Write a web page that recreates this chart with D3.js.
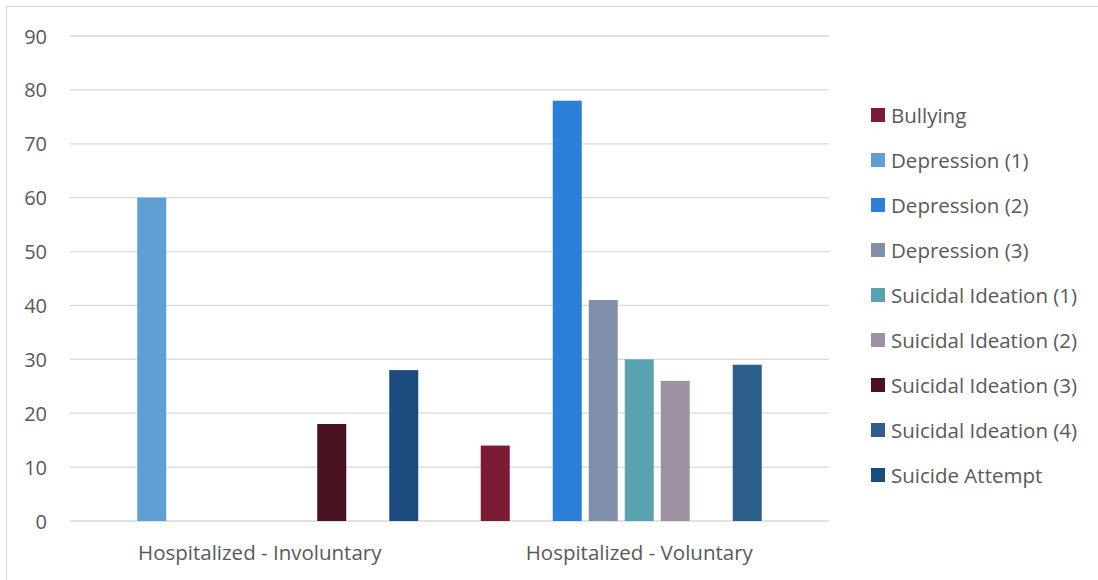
<!DOCTYPE html>
<html>
<head>
<meta charset="utf-8">
<script src="https://cdn.jsdelivr.net/npm/d3@7"></script>
<style>
  body { margin: 0; background: #fff; }
  text { font-family: "Open Sans", sans-serif; fill: #595959; }
</style>
</head>
<body>
<svg id="chart" width="1098" height="580"></svg>
<script>
// categories and series
var categories = ["Hospitalized - Involuntary", "Hospitalized - Voluntary"];
var seriesNames = ["Bullying", "Depression (1)", "Depression (2)", "Depression (3)",
  "Suicidal Ideation (1)", "Suicidal Ideation (2)", "Suicidal Ideation (3)",
  "Suicidal Ideation (4)", "Suicide Attempt"];
var seriesColors = ["#7B1C34", "#609FD3", "#2B7FD7", "#7F8EA9", "#59A3B0",
  "#9E91A1", "#4A1120", "#2C5F8C", "#1B4C80"];
// null = no bar
var involuntary = [null, 60, null, null, null, null, 18, null, 28];
var voluntary = [14, null, 78, 41, 30, 26, null, 29, null];
var yTicks = [0, 10, 20, 30, 40, 50, 60, 70, 80, 90];

var svg = d3.select("#chart");

// outer frame
svg.append("rect")
    .attr("x", 6.5).attr("y", 6.5)
    .attr("width", 1200).attr("height", 700)
    .attr("fill", "none")
    .attr("stroke", "#D9D9D9")
    .attr("stroke-width", 1.3);

var plotLeft = 70, plotRight = 829, plotTop = 36, plotBottom = 521;

var x0 = d3.scaleBand()
    .domain(categories)
    .range([plotLeft, plotRight])
    .paddingInner(0)
    .paddingOuter(0);

// 9 slots of 36px, bars 29px wide, centred in each category
var groupPad = (x0.bandwidth() - 324) / 2;
var x1 = d3.scaleBand()
    .domain(seriesNames)
    .range([groupPad, x0.bandwidth() - groupPad])
    .paddingInner(7 / 36)
    .paddingOuter(3.5 / 36);

var y = d3.scaleLinear()
    .domain([0, 90])
    .range([plotBottom, plotTop]);

// gridlines
svg.append("g")
    .selectAll("line")
    .data(yTicks)
    .join("line")
    .attr("x1", plotLeft).attr("x2", plotRight)
    .attr("y1", function (d) { return y(d); })
    .attr("y2", function (d) { return y(d); })
    .attr("stroke", "#D9D9D9")
    .attr("stroke-width", 1.3);

// y tick labels
svg.append("g")
    .selectAll("text")
    .data(yTicks)
    .join("text")
    .attr("x", 47)
    .attr("y", function (d) { return y(d); })
    .attr("text-anchor", "end")
    .attr("dominant-baseline", "central")
    .style("font-size", "20px")
    .text(function (d) { return d; });

// bars
var rows = [involuntary, voluntary];
var groups = svg.append("g")
    .selectAll("g")
    .data(categories)
    .join("g")
    .attr("transform", function (d) { return "translate(" + x0(d) + ",0)"; });

groups.selectAll("rect")
    .data(function (d, i) {
        return seriesNames.map(function (s, j) {
            return { name: s, value: rows[i][j], color: seriesColors[j] };
        }).filter(function (b) { return b.value !== null; });
    })
    .join("rect")
    .attr("x", function (d) { return x1(d.name); })
    .attr("y", function (d) { return y(d.value); })
    .attr("width", x1.bandwidth())
    .attr("height", function (d) { return plotBottom - y(d.value); })
    .attr("fill", function (d) { return d.color; });

// category labels
svg.append("g")
    .selectAll("text")
    .data(categories)
    .join("text")
    .attr("x", function (d) { return x0(d) + x0.bandwidth() / 2; })
    .attr("y", 552)
    .attr("text-anchor", "middle")
    .attr("dominant-baseline", "central")
    .style("font-size", "20.5px")
    .text(function (d) { return d; });

// legend
var legend = svg.append("g");
seriesNames.forEach(function (s, i) {
    legend.append("rect")
        .attr("x", 871)
        .attr("y", 108 + i * 45)
        .attr("width", 14)
        .attr("height", 14)
        .attr("fill", seriesColors[i]);
    legend.append("text")
        .attr("x", 891)
        .attr("y", 115 + i * 45)
        .attr("dominant-baseline", "central")
        .style("font-size", "20.5px")
        .text(s);
});
</script>
</body>
</html>
